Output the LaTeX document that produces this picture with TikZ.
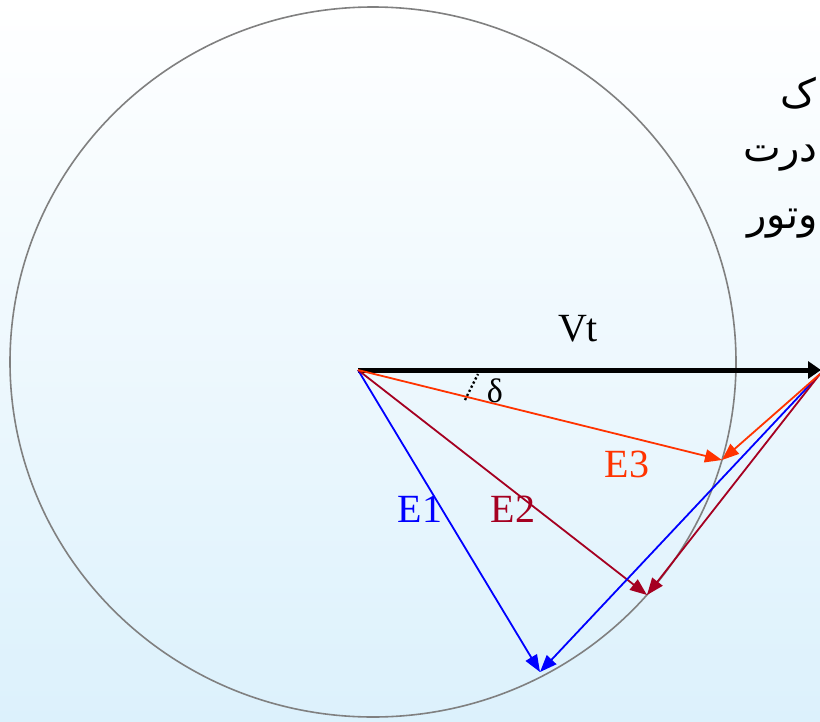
\documentclass[tikz,border=0pt]{standalone}
\usepackage{fontspec}
\setmainfont{Liberation Serif}
\newfontfamily\arabicfont[Script=Arabic]{DejaVu Sans}
\TeXXeTstate=1
\usetikzlibrary{arrows.meta}
\definecolor{bgbot}{RGB}{220,241,252}
\definecolor{bgmid}{RGB}{243,250,253}
\definecolor{eone}{RGB}{0,0,255}
\definecolor{etwo}{RGB}{165,0,33}
\definecolor{ethree}{RGB}{255,51,0}
\definecolor{circ}{RGB}{128,128,128}
\begin{document}
\begin{tikzpicture}[x=1pt,y=-1pt,
  vec/.style={line width=1.8pt,-{Triangle[length=17pt,width=13pt]}},
  lbl/.style={inner sep=0pt,font=\fontsize{40}{48}\selectfont},
  arlbl/.style={inner sep=0pt,anchor=east,font=\arabicfont\fontsize{40}{48}\selectfont}]
\useasboundingbox (0,0) rectangle (820,721);
\clip (0,0) rectangle (820,721);
\shade[top color=white, middle color=bgmid, bottom color=bgbot] (0,0) rectangle (820,721);
% circle locus
\draw[circ, line width=1.6pt] (373,362) ellipse [x radius=363, y radius=355];
% points
\coordinate (O) at (358,370);
\coordinate (P) at (820,374);
\coordinate (V) at (821,370);
\coordinate (A1) at (540,672);
\coordinate (A2) at (647,595);
\coordinate (A3) at (722,460);
% Vt
\draw[line width=5pt,-{Triangle[length=13pt,width=17pt]}] (O) -- (V);
% E vectors
\draw[vec, eone] (O) -- (A1);
\draw[vec, etwo] (O) -- (A2);
\draw[vec, ethree] (O) -- (A3);
\draw[vec, eone] (P) -- (A1);
\draw[vec, etwo] (P) -- (A2);
\draw[vec, ethree] (P) -- (A3);
% delta marker
\coordinate (d1) at (465,400);
\coordinate (d2) at (478,374);
\draw[line width=2.4pt, dash pattern=on 2.2pt off 2.4pt] (d1) -- (d2);
% labels
\node[lbl] (vt) at (578,329) {Vt};
\node[inner sep=0pt,font=\fontsize{34}{40}\selectfont] (delta) at (495,391) {δ};
\node[lbl, text=eone] (e1) at (420,509) {E1};
\node[lbl, text=etwo] (e2) at (513,509) {E2};
\node[lbl, text=ethree] (e3) at (627,464) {E3};
% Persian text at the right edge
\node[arlbl] (t1) at (816,93) {\beginR ک\endR};
\node[arlbl] (t2) at (818,158) {\beginR درت\endR};
\node[arlbl] (t3) at (818,224) {\beginR وتور\endR};
\end{tikzpicture}
\end{document}
